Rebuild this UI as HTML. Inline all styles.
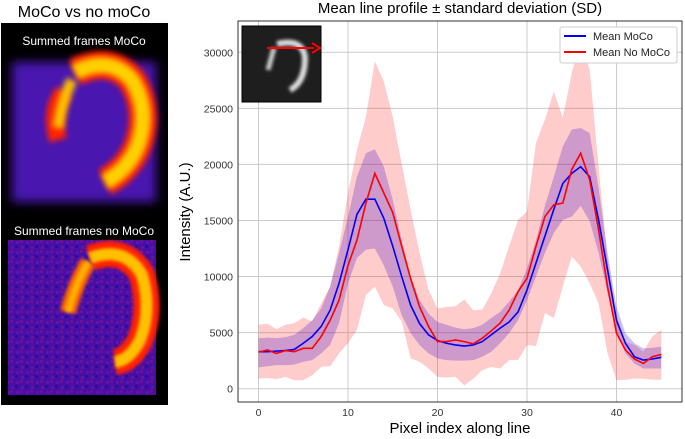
<!DOCTYPE html>
<html><head><meta charset="utf-8"><style>
body{margin:0;width:685px;height:439px;background:#fff;overflow:hidden;font-family:"Liberation Sans",sans-serif}
</style></head><body>
<svg width="685" height="439" style="position:absolute;left:0;top:0">
<defs>
<filter id="bl" filterUnits="userSpaceOnUse" x="0" y="0" width="685" height="439"><feGaussianBlur stdDeviation="3"/></filter>
<filter id="bl2" filterUnits="userSpaceOnUse" x="0" y="0" width="685" height="439"><feGaussianBlur stdDeviation="1.5"/></filter>
<filter id="bl3" filterUnits="userSpaceOnUse" x="0" y="0" width="685" height="439"><feGaussianBlur stdDeviation="5"/></filter>
<pattern id="noise" width="10" height="10" patternUnits="userSpaceOnUse"><rect width="3" height="3" fill="#c01070" opacity="0.35"/><rect x="5" y="5" width="3" height="3" fill="#200070" opacity="0.4"/><rect x="6" y="1" width="3" height="3" fill="#8020c0" opacity="0.35"/><rect x="1" y="6" width="3" height="3" fill="#d02050" opacity="0.25"/></pattern>
<clipPath id="pc"><rect x="238" y="21" width="444" height="381"/></clipPath>
<clipPath id="ic1"><rect x="8" y="55" width="152" height="155"/></clipPath>
</defs>
<text x="84" y="17" text-anchor="middle" font-size="16">MoCo vs no moCo</text>
<rect x="1" y="23" width="167" height="382" fill="#000"/>
<g>
<rect x="12" y="62" width="144" height="140" fill="#4a12b0" filter="url(#bl3)"/>
<path d="M58 140 Q50 110 64 92" stroke="#ff2000" stroke-width="18" fill="none" filter="url(#bl)"/>
<path d="M75 72 Q110 55 132 80 Q150 110 138 145 Q128 170 105 182" stroke="#ff2000" stroke-width="28" fill="none" filter="url(#bl)"/>
<path d="M75 72 Q110 55 132 80 Q150 110 138 145 Q128 170 105 182" stroke="#ffd000" stroke-width="16" fill="none" filter="url(#bl)"/>
<path d="M72 80 Q62 100 58 128" stroke="#ffc000" stroke-width="11" fill="none" filter="url(#bl)"/>
</g>
<text x="84" y="45" text-anchor="middle" font-size="12" fill="#fff">Summed frames MoCo</text>
<text x="84" y="235" text-anchor="middle" font-size="12" fill="#fff">Summed frames no MoCo</text>
<g>
<rect x="8" y="240" width="148" height="155" fill="#4410a8"/>
<rect x="8" y="240" width="148" height="155" fill="url(#noise)"/>
<path d="M90 258 Q125 245 142 275 Q152 310 140 340 Q130 360 115 362" stroke="#ff2000" stroke-width="26" fill="none" filter="url(#bl2)"/>
<path d="M90 258 Q125 245 142 275 Q152 310 140 340 Q130 360 115 362" stroke="#ffc000" stroke-width="12" fill="none" filter="url(#bl2)"/>
<path d="M88 262 Q75 285 68 312" stroke="#ff6000" stroke-width="16" fill="none" filter="url(#bl2)"/>
<path d="M88 262 Q75 285 68 312" stroke="#ffb000" stroke-width="7" fill="none" filter="url(#bl2)"/>
</g>
<text x="460" y="13" text-anchor="middle" font-size="15">Mean line profile ± standard deviation (SD)</text>
<g id="grid"></g>
<g id="plot" clip-path="url(#pc)"></g>
<rect x="238" y="21" width="444" height="381" fill="none" stroke="#000" stroke-width="0.8"/>
<g id="ticks" font-size="10.5" fill="#333"></g>
<text x="0" y="0" transform="translate(190,212) rotate(-90)" text-anchor="middle" font-size="15">Intensity (A.U.)</text>
<text x="460" y="433" text-anchor="middle" font-size="15">Pixel index along line</text>
<g>
<rect x="242" y="26" width="79" height="76" fill="#1e1e1e" stroke="#000"/>
<path d="M277 44 Q303 38 305 58 Q305 82 290 90" stroke="#ddd" stroke-width="6" fill="none" filter="url(#bl2)"/>
<path d="M274 48 L268 70" stroke="#ccc" stroke-width="5" fill="none" filter="url(#bl2)"/>
<line x1="267" y1="48" x2="314" y2="48" stroke="#f00" stroke-width="2"/>
<path d="M312 43 L320 48 L312 53" stroke="#f00" stroke-width="2" fill="none"/>
</g>
<g>
<rect x="560" y="27" width="117" height="36" fill="#fff" stroke="#ccc" rx="2"/>
<line x1="564" y1="36" x2="586" y2="36" stroke="#00f" stroke-width="2"/>
<text x="593" y="40" font-size="11" fill="#222">Mean MoCo</text>
<line x1="564" y1="52" x2="586" y2="52" stroke="#f00" stroke-width="2"/>
<text x="593" y="56" font-size="11" fill="#222">Mean No MoCo</text>
</g>
</svg>
<script>
const xTicks=[0,10,20,30,40];
const yTicks=[0,5000,10000,15000,20000,25000,30000];
const blueMean=[3300,3300,3350,3400,3500,4050,4650,5550,7000,9400,12400,15550,16900,16900,15200,12700,10000,7450,5800,4800,4300,4050,3900,3800,3900,4200,4800,5400,5950,6850,8800,11200,13600,16000,18300,19200,19800,18900,15050,10600,6100,4050,2850,2550,2650,2800];
const blueUpper=[4500,4550,4500,4600,4800,5400,6100,7150,9100,12100,15350,18900,21000,21350,19800,16850,13250,10000,7900,6700,5950,5700,5450,5300,5400,5700,6300,6850,7750,8800,10700,13250,16300,18900,21600,23100,23250,22800,17900,12100,7300,4950,4050,3600,3650,3750];
const blueLower=[1900,2000,2100,2100,2150,2400,2550,3150,3900,5850,9400,11650,12400,12500,11000,9100,6550,4950,3900,3150,2700,2550,2500,2500,2550,2850,3300,4050,4950,6100,7900,10000,12100,13900,15050,15350,16300,14950,12100,8550,5100,3150,2250,1800,1800,1800];
const redMean=[3250,3450,3150,3400,3300,3600,3600,4650,6100,7900,11000,13250,16550,19200,17450,15700,12700,9800,7300,5550,4200,4200,4350,4200,4000,4500,5150,5850,7000,8650,9850,12700,15350,16400,16550,19550,21000,18650,14150,9100,4950,3450,2650,2250,2850,3050];
const redUpper=[5700,5800,5300,5700,5850,6350,6000,7600,9100,12700,17450,21300,24250,29200,27400,24250,20050,15950,12100,8800,7150,7300,7350,7950,7000,7050,8500,10300,12700,15050,15800,21900,24000,26500,24150,28150,31100,28450,19750,11500,6450,4200,3900,3300,4650,5250];
const redLower=[900,950,850,1050,750,750,1200,1950,2000,3150,4050,5250,8350,9100,7450,7150,6000,2700,2400,1800,1050,1000,1050,300,900,1650,1950,1800,2550,2550,3900,3800,6750,6300,9100,11800,10900,9400,7600,3150,750,800,900,900,800,800];
const NS="http://www.w3.org/2000/svg";
const X=v=>258.5+v*8.95, Y=v=>388.7-v*56.07/5000;
function mk(tag,attrs,parent){const e=document.createElementNS(NS,tag);for(const k in attrs)e.setAttribute(k,attrs[k]);document.getElementById(parent).appendChild(e);return e;}
xTicks.forEach(t=>{
 const g=mk('line',{x1:X(t),x2:X(t),y1:21,y2:402,stroke:'#ccc','stroke-width':1},'grid');
 
 
 const tx=mk('text',{x:X(t),y:416,'text-anchor':'middle'},'ticks');tx.textContent=t;
 
 
});
yTicks.forEach(t=>{
 const g=mk('line',{x1:238,x2:682,y1:Y(t),y2:Y(t),stroke:'#ccc','stroke-width':1},'grid');
 
 
 const tx=mk('text',{x:233,y:Y(t)+4,'text-anchor':'end'},'ticks');tx.textContent=t;
 
 
});
function band(up,lo,fill,name){
 let d='M'+up.map((v,i)=>X(i)+','+Y(v)).join('L')+'L'+lo.map((v,i)=>X(i)+','+Y(v)).reverse().join('L')+'Z';
 const p=mk('path',{d:d,fill:fill,stroke:'none'},'plot');
 
 
}
function line(arr,col,name){
 const p=mk('polyline',{points:arr.map((v,i)=>X(i)+','+Y(v)).join(' '),fill:'none',stroke:col,'stroke-width':1.6},'plot');
 
 
}
band(redUpper,redLower,'rgba(255,0,0,0.2)','nomoco-sd-band');
band(blueUpper,blueLower,'rgba(60,0,200,0.25)','moco-sd-band');
line(blueMean,'#0000ff','moco-mean-line');
line(redMean,'#ff0000','nomoco-mean-line');
</script>
</body></html>
